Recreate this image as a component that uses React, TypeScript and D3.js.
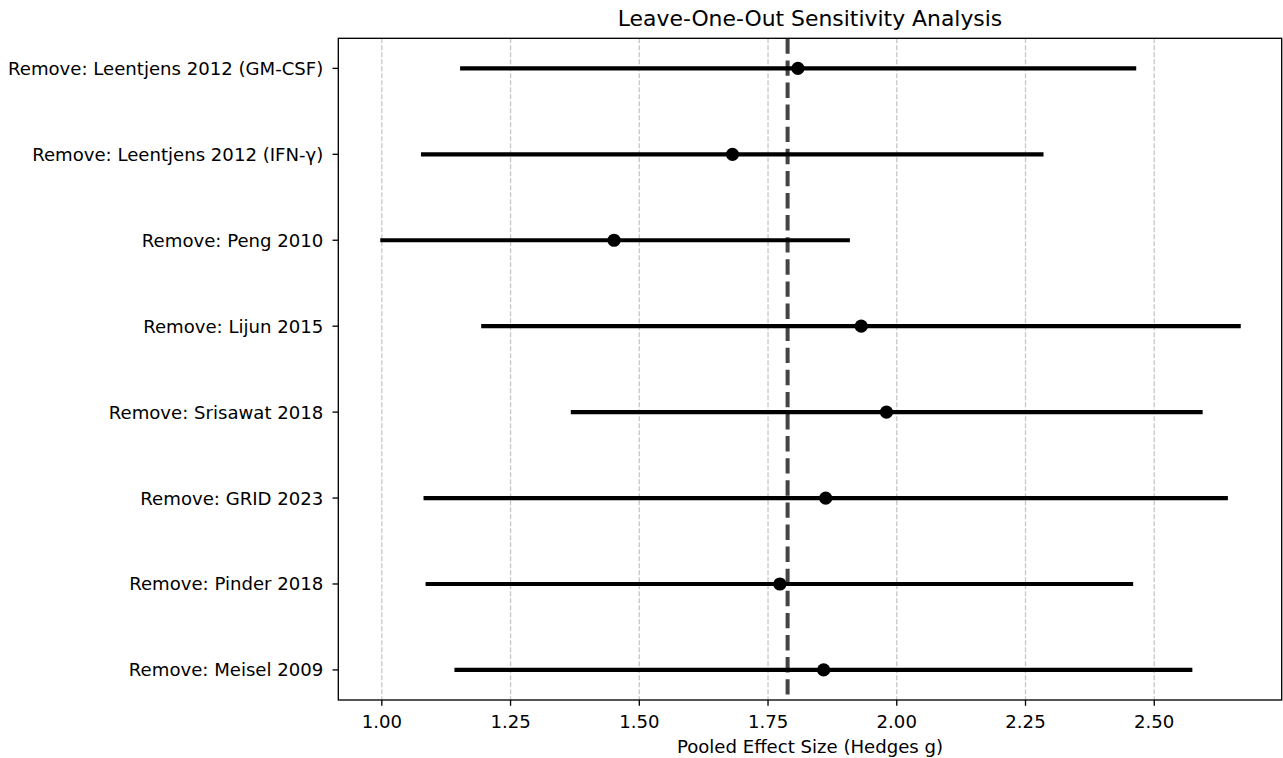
import React, { useEffect, useRef } from "react";
import * as d3 from "d3";

// leave-one-out results, top to bottom
const studies = [
  "Remove: Leentjens 2012 (GM-CSF)",
  "Remove: Leentjens 2012 (IFN-γ)",
  "Remove: Peng 2010",
  "Remove: Lijun 2015",
  "Remove: Srisawat 2018",
  "Remove: GRID 2023",
  "Remove: Pinder 2018",
  "Remove: Meisel 2009",
];
const pooled = [1.808, 1.681, 1.451, 1.931, 1.98, 1.862, 1.773, 1.858];
const lower = [1.152, 1.076, 0.997, 1.193, 1.367, 1.081, 1.085, 1.141];
const upper = [2.465, 2.285, 1.909, 2.668, 2.594, 2.643, 2.459, 2.574];
const overallEffect = 1.788;
const xTicks = [1.0, 1.25, 1.5, 1.75, 2.0, 2.25, 2.5];

const W = 1283;
const H = 758;
const FONT = "DejaVu Sans, Verdana, sans-serif";
const FS = 18.1;

export default function App() {
  const ref = useRef<SVGSVGElement>(null);

  useEffect(() => {
    const margin = { top: 38.3, right: W - 1281.7, bottom: H - 700, left: 338.3 };
    const svg = d3.select(ref.current);
    svg.selectAll("*").remove();

    const x = d3
      .scaleLinear()
      .domain([0.9155, 2.7475])
      .range([margin.left, W - margin.right]);
    const y = d3
      .scalePoint()
      .domain(studies)
      .range([margin.top, H - margin.bottom])
      .padding(0.35);

    const g = svg.append("g");

    // vertical grid
    g.selectAll(".grid")
      .data(xTicks)
      .enter()
      .append("line")
      .attr("x1", (d) => x(d))
      .attr("x2", (d) => x(d))
      .attr("y1", margin.top)
      .attr("y2", H - margin.bottom)
      .attr("stroke", "#c8c8c8")
      .attr("stroke-width", 1.33)
      .attr("stroke-dasharray", "4.9,2.1");

    // pooled estimate line
    g.append("line")
      .attr("x1", x(overallEffect))
      .attr("x2", x(overallEffect))
      .attr("y1", margin.top)
      .attr("y2", H - margin.bottom)
      .attr("stroke", "#444")
      .attr("stroke-width", 4)
      .attr("stroke-dasharray", "15.4,6.7");

    const rows = studies.map((s, i) => ({ s, est: pooled[i], lo: lower[i], hi: upper[i] }));

    g.selectAll(".ci")
      .data(rows)
      .enter()
      .append("line")
      .attr("x1", (d) => x(d.lo))
      .attr("x2", (d) => x(d.hi))
      .attr("y1", (d) => y(d.s)!)
      .attr("y2", (d) => y(d.s)!)
      .attr("stroke", "#000")
      .attr("stroke-width", 4.2);

    g.selectAll(".dot")
      .data(rows)
      .enter()
      .append("circle")
      .attr("cx", (d) => x(d.est))
      .attr("cy", (d) => y(d.s)!)
      .attr("r", 6.6)
      .attr("fill", "#000");

    // frame
    g.append("rect")
      .attr("x", margin.left)
      .attr("y", margin.top)
      .attr("width", W - margin.right - margin.left)
      .attr("height", H - margin.bottom - margin.top)
      .attr("fill", "none")
      .attr("stroke", "#000")
      .attr("stroke-width", 1.33);

    // x axis
    const xa = g.append("g").attr("transform", `translate(0, ${H - margin.bottom})`);
    const xt = xa.selectAll(".xt").data(xTicks).enter().append("g");
    xt.append("line")
      .attr("x1", (d) => x(d))
      .attr("x2", (d) => x(d))
      .attr("y1", 0)
      .attr("y2", 5.8)
      .attr("stroke", "#000")
      .attr("stroke-width", 1.33);
    xt.append("text")
      .attr("x", (d) => x(d))
      .attr("y", 28)
      .attr("text-anchor", "middle")
      .attr("font-family", FONT)
      .attr("font-size", FS)
      .attr("fill", "#000")
      .text((d) => d3.format(".2f")(d));

    // y axis
    const yt = g.selectAll(".yt").data(studies).enter().append("g");
    yt.append("line")
      .attr("x1", margin.left - 5.8)
      .attr("x2", margin.left)
      .attr("y1", (d) => y(d)!)
      .attr("y2", (d) => y(d)!)
      .attr("stroke", "#000")
      .attr("stroke-width", 1.33);
    yt.append("text")
      .attr("x", margin.left - 15)
      .attr("y", (d) => y(d)! + 6.5)
      .attr("text-anchor", "end")
      .attr("font-family", FONT)
      .attr("font-size", FS)
      .attr("fill", "#000")
      .text((d) => d);

    const cx = (margin.left + W - margin.right) / 2;
    g.append("text")
      .attr("x", cx)
      .attr("y", 753)
      .attr("text-anchor", "middle")
      .attr("font-family", FONT)
      .attr("font-size", FS)
      .attr("fill", "#000")
      .text("Pooled Effect Size (Hedges g)");

    g.append("text")
      .attr("x", cx)
      .attr("y", 26)
      .attr("text-anchor", "middle")
      .attr("font-family", FONT)
      .attr("font-size", 21.9)
      .attr("fill", "#000")
      .text("Leave-One-Out Sensitivity Analysis");
  }, []);

  return (
    <svg
      ref={ref}
      width={W}
      height={H}
      style={{ position: "absolute", left: 0, top: 0, background: "#fff" }}
    />
  );
}
